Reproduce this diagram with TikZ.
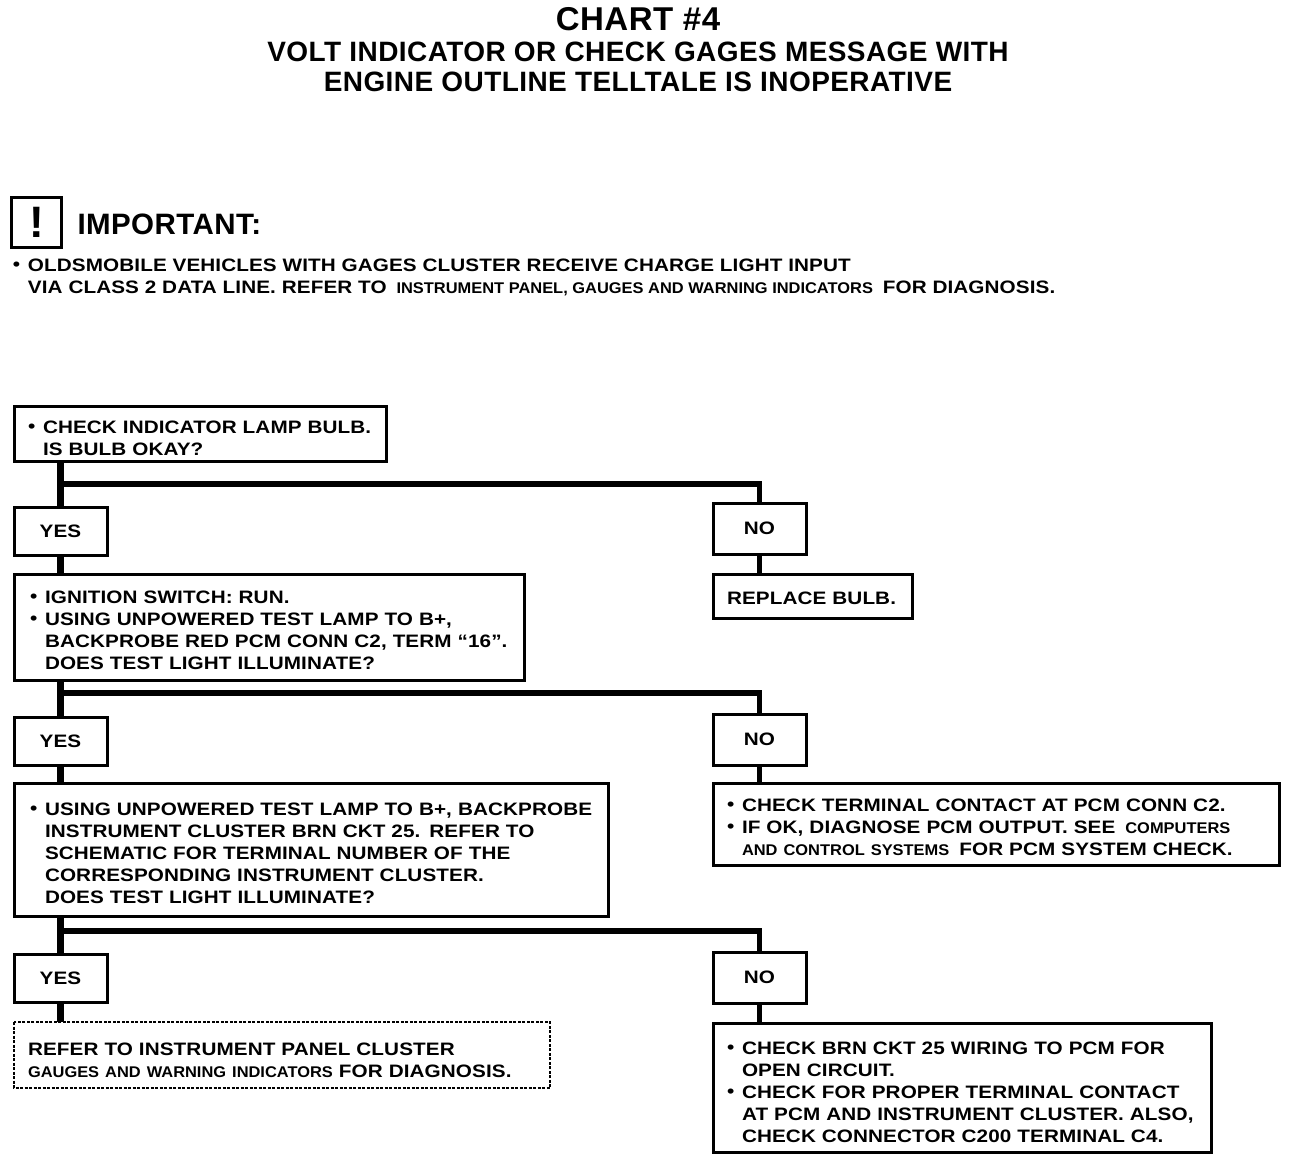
\documentclass[tikz,border=0pt]{standalone}
\usepackage{fontspec}
\setmainfont{Liberation Sans}
\newfontfamily\chartfont[FakeStretch=1.15,LetterSpace=0.5]{Liberation Sans Bold}
\newfontfamily\headfont[LetterSpace=1.5]{Liberation Sans Bold}
\newfontfamily\smallfont[FakeStretch=1.06]{Liberation Sans Bold}
\usetikzlibrary{arrows.meta,positioning,calc}
\newcommand{\sm}[1]{{\smallfont\fontsize{15.5}{22}\selectfont #1}}
\newcommand{\pad}{\hspace*{4pt}}
\newcommand{\bul}{\pad\makebox[15pt][l]{\raisebox{1pt}{\textbullet}}}
\newcommand{\ind}{\hspace*{19pt}}
\newcommand{\lift}[1]{\rule{0pt}{#1pt}}
\begin{document}
\begin{tikzpicture}[x=1pt, y=1pt, font=\chartfont\fontsize{18}{22}\selectfont,
  box/.style={draw, line width=3pt, outer sep=0pt, inner xsep=10pt, inner ysep=0pt, align=left},
  ans/.style={draw, line width=3pt, outer sep=0pt, inner sep=0pt, minimum width=93pt, minimum height=48pt},
  nobox/.style={ans, minimum height=51pt},
  note/.style={outer sep=0pt, inner sep=0pt, align=left},
  wire/.style={line width=6.5pt, xshift=1.5pt},
  branch/.style={line width=5.5pt}]
\useasboundingbox (0,0) rectangle (1296,-1160);
% heading
\node[note, font=\headfont\fontsize{33}{36}\selectfont] (title) at (638,-19) {CHART \#4};
\node[note, font=\headfont\fontsize{28}{30}\selectfont, below=11pt of title] (sub1) {VOLT INDICATOR OR CHECK GAGES MESSAGE WITH};
\node[note, font=\headfont\fontsize{28}{30}\selectfont, below=10pt of sub1] (sub2) {ENGINE OUTLINE TELLTALE IS INOPERATIVE};
% important note
\node[draw, line width=3pt, outer sep=0pt, inner sep=0pt, minimum width=50pt, minimum height=50pt, font=\headfont\fontsize{44}{44}\selectfont] (icon) at (36.5,-222) {!};
\node[note, font=\headfont\fontsize{29.5}{34}\selectfont, right=16pt of icon, yshift=-2pt] (important) {IMPORTANT:};
\node[note, anchor=north west] (oldsmobile) at (9,-259) {\bul OLDSMOBILE VEHICLES WITH GAGES CLUSTER RECEIVE CHARGE LIGHT INPUT\\
\ind VIA CLASS 2 DATA LINE. REFER TO \pad\sm{INSTRUMENT PANEL, GAUGES AND WARNING INDICATORS}\pad{} FOR DIAGNOSIS.};
% left column
\node[box, anchor=north west, text width=352pt, minimum height=55pt] (bulb) at (14,-406) {\lift{23}\bul CHECK INDICATOR LAMP BULB.\\\ind IS BULB OKAY?};
\node[ans, below=46pt of bulb.south west, anchor=north west] (yes1) {YES};
\node[box, below=19pt of yes1.south west, anchor=north west, inner xsep=12pt, text width=486pt, minimum height=106pt] (lamp) {\lift{19}\bul IGNITION SWITCH: RUN.\\
\bul USING UNPOWERED TEST LAMP TO B+,\\
\ind BACKPROBE RED PCM CONN C2, TERM “16”.\\
\ind DOES TEST LIGHT ILLUMINATE?};
\node[ans, below=37pt of lamp.south west, anchor=north west] (yes2) {YES};
\node[box, below=18pt of yes2.south west, anchor=north west, inner xsep=12pt, text width=570pt, minimum height=133pt] (cluster) {\lift{21}\bul USING UNPOWERED TEST LAMP TO B+, BACKPROBE\\
\ind INSTRUMENT CLUSTER BRN CKT 25. REFER TO\\
\ind SCHEMATIC FOR TERMINAL NUMBER OF THE\\
\ind CORRESPONDING INSTRUMENT CLUSTER.\\
\ind DOES TEST LIGHT ILLUMINATE?};
\node[ans, below=38pt of cluster.south west, anchor=north west] (yes3) {YES};
\node[box, draw=none, below=20pt of yes3.south west, anchor=north west, text width=516pt, minimum height=66pt] (refer) {\lift{23}\pad REFER TO INSTRUMENT PANEL CLUSTER\\
\pad\sm{GAUGES AND WARNING INDICATORS} FOR DIAGNOSIS.};
\draw[line width=2.5pt, dash pattern=on 3pt off 1.5pt] (refer.north west) rectangle (refer.south east);
% right column
\node[nobox, anchor=north west] (no1) at (713,-503) {NO};
\node[box, below=20pt of no1.south west, anchor=north west, text width=179pt, minimum height=44pt] (replace) {\lift{17}\pad REPLACE BULB.};
\node[nobox, anchor=north west] (no2) at (713,-714) {NO};
\node[box, below=18pt of no2.south west, anchor=north west, text width=546pt, minimum height=82pt] (terminal) {\lift{19}\bul CHECK TERMINAL CONTACT AT PCM CONN C2.\\
\bul IF OK, DIAGNOSE PCM OUTPUT. SEE \pad\sm{COMPUTERS}\\
\ind\sm{AND CONTROL SYSTEMS}\pad{} FOR PCM SYSTEM CHECK.};
\node[nobox, anchor=north west] (no3) at (713,-952) {NO};
\node[box, below=20pt of no3.south west, anchor=north west, text width=478pt, minimum height=129pt] (wiring) {\lift{22}\bul CHECK BRN CKT 25 WIRING TO PCM FOR\\
\ind OPEN CIRCUIT.\\
\bul CHECK FOR PROPER TERMINAL CONTACT\\
\ind AT PCM AND INSTRUMENT CLUSTER. ALSO,\\
\ind CHECK CONNECTOR C200 TERMINAL C4.};
% connectors
\coordinate (fork1) at ($(bulb.south -| yes1.north)+(1.5,-23)$);
\coordinate (fork2) at ($(lamp.south -| yes2.north)+(1.5,-13)$);
\coordinate (fork3) at ($(cluster.south -| yes3.north)+(1.5,-15)$);
\draw[wire] (bulb.south -| yes1.north) -- (yes1.north);
\draw[wire] (lamp.south -| yes2.north) -- (yes2.north);
\draw[wire] (cluster.south -| yes3.north) -- (yes3.north);
\draw[branch] (fork1) -| (no1.north);
\draw[branch] (fork2) -| (no2.north);
\draw[branch] (fork3) -| (no3.north);
\draw[wire] (yes1.south) -- (lamp.north -| yes1.south);
\draw[wire] (yes2.south) -- (cluster.north -| yes2.south);
\draw[wire] (yes3.south) -- (refer.north -| yes3.south);
\draw[branch] (no1.south) -- (replace.north -| no1.south);
\draw[branch] (no2.south) -- (terminal.north -| no2.south);
\draw[branch] (no3.south) -- (wiring.north -| no3.south);
\end{tikzpicture}
\end{document}
